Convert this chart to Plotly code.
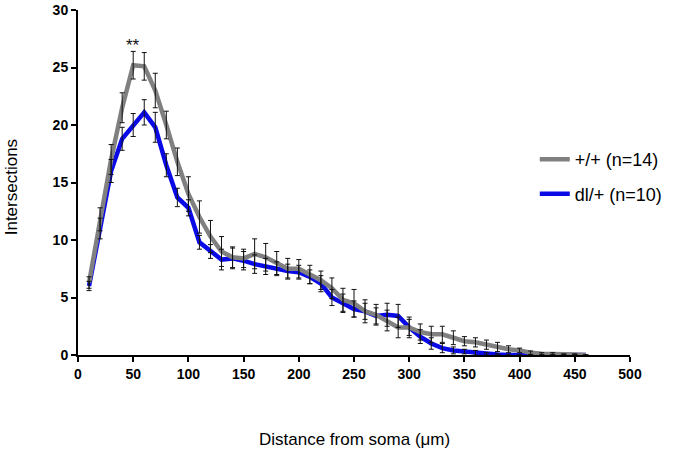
import plotly.graph_objects as go

distance = [10, 20, 30, 40, 50, 60, 70, 80, 90, 100, 110, 120, 130, 140, 150, 160, 170, 180, 190, 200,
            210, 220, 230, 240, 250, 260, 270, 280, 290, 300, 310, 320, 330, 340, 350, 360, 370, 380, 390, 400,
            410, 420, 430, 440, 450, 460]

wt_mean = [6.3, 11.8, 17.0, 21.5, 25.2, 25.1, 23.0, 20.0, 16.8, 14.0, 12.0, 10.3, 9.0, 8.5, 8.4, 8.8, 8.5, 8.0, 7.5, 7.5,
           7.0, 6.5, 5.8, 4.8, 4.5, 3.8, 3.5, 3.0, 2.4, 2.4, 2.0, 1.8, 1.8, 1.5, 1.2, 1.1, 0.9, 0.7, 0.5, 0.4,
           0.2, 0.1, 0.1, 0.05, 0.05, 0.0]
wt_sem = [0.5, 1.0, 1.3, 1.3, 1.2, 1.2, 1.5, 1.2, 1.2, 1.5, 1.4, 1.4, 1.3, 0.9, 0.8, 1.3, 1.2, 1.0, 0.9, 0.8,
          0.8, 0.8, 0.9, 1.0, 1.2, 1.0, 0.9, 0.9, 0.9, 0.9, 0.7, 0.7, 0.7, 0.6, 0.4, 0.4, 0.4, 0.4, 0.3, 0.2,
          0.15, 0.1, 0.1, 0.05, 0.05, 0.0]

dl_mean = [6.0, 11.0, 16.0, 18.8, 20.0, 21.1, 19.8, 16.5, 13.7, 12.8, 9.8, 9.0, 8.3, 8.4, 8.2, 7.9, 7.7, 7.5, 7.3, 7.2,
           6.8, 6.2, 5.0, 4.5, 4.0, 3.8, 3.4, 3.5, 3.4, 2.4, 1.6, 1.0, 0.6, 0.4, 0.3, 0.2, 0.1, 0.05, 0.0, 0.0,
           0.0, 0.0, 0.0, 0.0, 0.0, 0.0]
dl_sem = [0.4, 0.9, 1.0, 1.0, 1.0, 1.1, 1.3, 1.0, 0.8, 0.7, 0.6, 0.6, 0.9, 0.9, 0.8, 0.8, 0.7, 0.6, 0.6, 0.6,
          0.6, 0.7, 0.7, 0.8, 0.7, 0.7, 0.7, 1.0, 1.0, 0.7, 0.6, 0.5, 0.4, 0.3, 0.2, 0.2, 0.1, 0.05, 0.0, 0.0,
          0.0, 0.0, 0.0, 0.0, 0.0, 0.0]

x_ticks = [0, 50, 100, 150, 200, 250, 300, 350, 400, 450, 500]
y_ticks = [0, 5, 10, 15, 20, 25, 30]

GRAY = "#808080"
BLUE = "#0a0ae6"
FONT = "Liberation Sans, Arial"

fig = go.Figure()

fig.add_trace(go.Scatter(x=distance, y=dl_mean, mode="lines", name="dl/+ (n=10)",
                         line=dict(color=BLUE, width=4.5), legendgroup="b", legendrank=2))
fig.add_trace(go.Scatter(x=distance, y=wt_mean, mode="lines", name="+/+ (n=14)",
                         line=dict(color=GRAY, width=4.5), legendgroup="a", legendrank=1))

for m, s in ((dl_mean, dl_sem), (wt_mean, wt_sem)):
    fig.add_trace(go.Scatter(x=distance, y=m, mode="markers", marker=dict(size=0.1, color="rgba(0,0,0,0)"),
                             error_y=dict(type="data", array=s, visible=True, color="#111111",
                                          thickness=1, width=2.5),
                             showlegend=False, hoverinfo="skip"))

fig.add_annotation(x=50, y=26.9, text="**", showarrow=False, xref="x", yref="y",
                   font=dict(family=FONT, size=17, color="#111111"))

fig.add_annotation(x=0.5, y=-0.246, xref="paper", yref="paper", text="Distance from soma (μm)",
                   showarrow=False, xanchor="center", yanchor="middle",
                   font=dict(family=FONT, size=17, color="black"))
fig.add_annotation(x=-0.119, y=0.487, xref="paper", yref="paper", text="Intersections",
                   showarrow=False, xanchor="center", yanchor="middle", textangle=-90,
                   font=dict(family=FONT, size=17, color="black"))

axis_common = dict(showline=True, linecolor="black", linewidth=2, ticks="outside", ticklen=5,
                   tickwidth=2, tickcolor="black", showgrid=False, zeroline=False, automargin=False,
                   tickfont=dict(family=FONT, size=14, color="black", weight="bold"))

fig.update_layout(
    width=677, height=455,
    margin=dict(l=78, r=46, t=10, b=100),
    plot_bgcolor="white", paper_bgcolor="white",
    xaxis=dict(range=[0, 500], tickvals=x_ticks, **axis_common),
    yaxis=dict(range=[0, 30], tickvals=y_ticks, **axis_common),
    legend=dict(x=0.826, y=0.62, xanchor="left", yanchor="top", bgcolor="rgba(0,0,0,0)",
                font=dict(family=FONT, size=18, color="black"),
                tracegroupgap=8, itemwidth=30),
    showlegend=True,
)

fig.write_html("out.html", config={"displayModeBar": False},
               post_script="document.body.style.margin='0';document.body.style.overflow='hidden';")
